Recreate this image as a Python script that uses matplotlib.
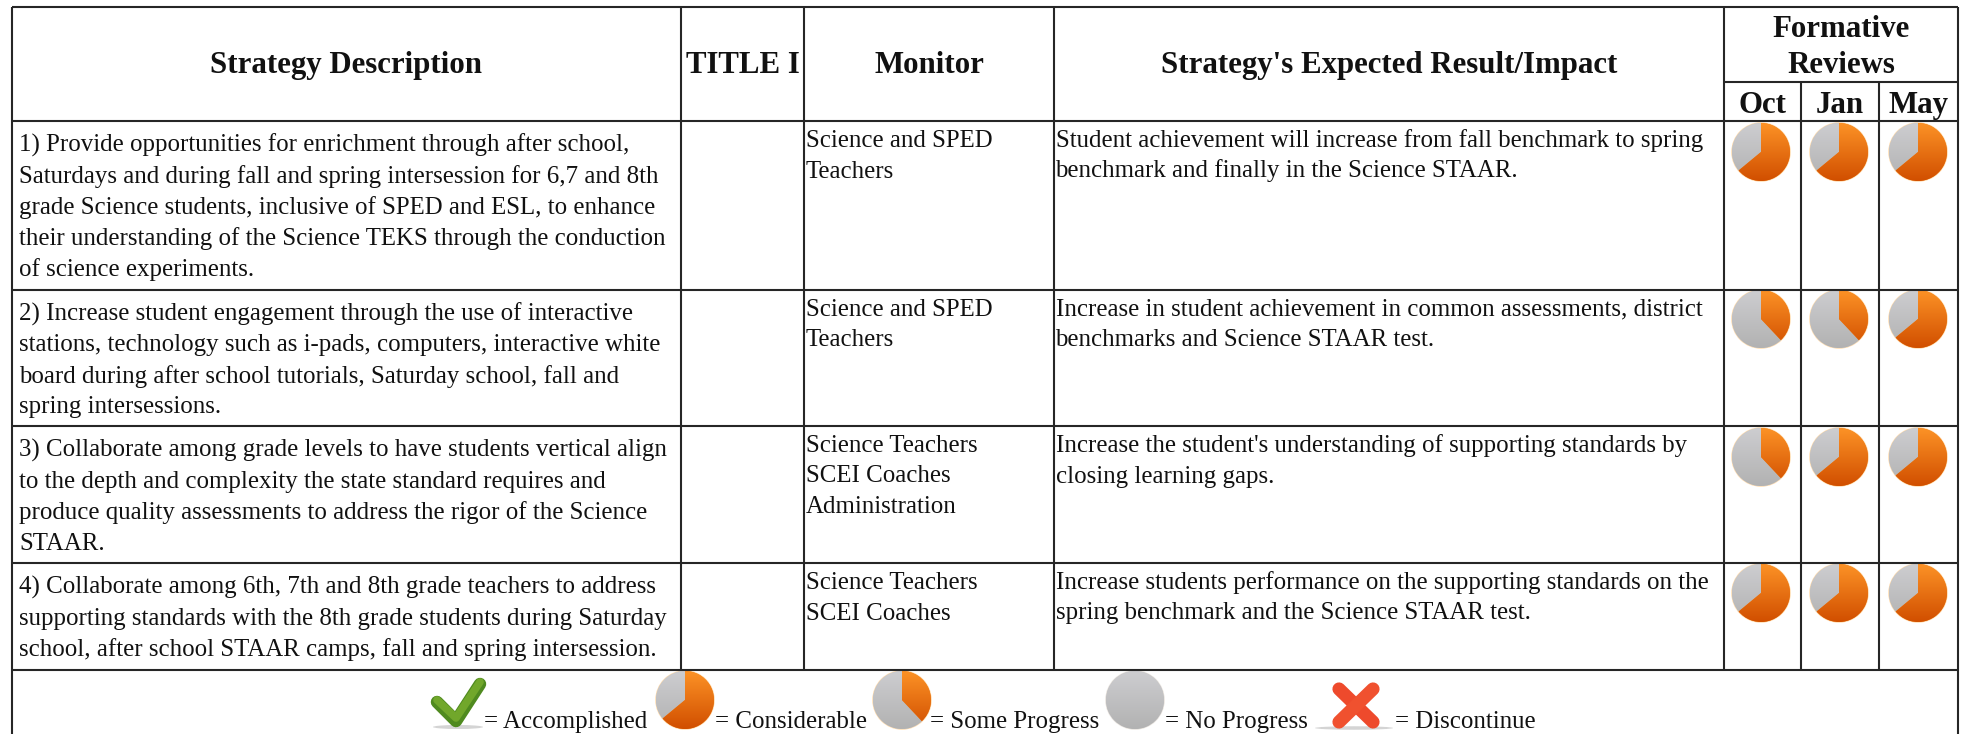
import numpy as np
import matplotlib
matplotlib.use("Agg")
import matplotlib.pyplot as plt
from matplotlib.patches import Wedge, Circle, Ellipse

plt.rcParams['font.family'] = ['Liberation Serif', 'DejaVu Sans']

# ---- data ----
headers = ["Strategy Description", "TITLE I", "Monitor", "Strategy's Expected Result/Impact"]
review_title = ["Formative", "Reviews"]
review_months = ["Oct", "Jan", "May"]
strategies = [
    ["1) Provide opportunities for enrichment through after school,",
     "Saturdays and during fall and spring intersession for 6,7 and 8th",
     "grade Science students, inclusive of SPED and ESL, to enhance",
     "their understanding of the Science TEKS through the conduction",
     "of science experiments."],
    ["2) Increase student engagement through the use of interactive",
     "stations, technology such as i-pads, computers, interactive white",
     "board during after school tutorials, Saturday school, fall and",
     "spring intersessions."],
    ["3) Collaborate among grade levels to have students vertical align",
     "to the depth and complexity the state standard requires and",
     "produce quality assessments to address the rigor of the Science",
     "STAAR."],
    ["4) Collaborate among 6th, 7th and 8th grade teachers to address",
     "supporting standards with the 8th grade students during Saturday",
     "school, after school STAAR camps, fall and spring intersession."],
]
monitors = [
    ["Science and SPED", "Teachers"],
    ["Science and SPED", "Teachers"],
    ["Science Teachers", "SCEI Coaches", "Administration"],
    ["Science Teachers", "SCEI Coaches"],
]
impacts = [
    ["Student achievement will increase from fall benchmark to spring",
     "benchmark and finally in the Science STAAR."],
    ["Increase in student achievement in common assessments, district",
     "benchmarks and Science STAAR test."],
    ["Increase the student's understanding of supporting standards by",
     "closing learning gaps."],
    ["Increase students performance on the supporting standards on the",
     "spring benchmark and the Science STAAR test."],
]
CONSIDERABLE, SOME, NONE = 0.64, 0.38, 0.0
progress = [
    [CONSIDERABLE, CONSIDERABLE, CONSIDERABLE],
    [SOME, SOME, CONSIDERABLE],
    [SOME, CONSIDERABLE, CONSIDERABLE],
    [CONSIDERABLE, CONSIDERABLE, CONSIDERABLE],
]
legend_labels = ["= Accomplished", "= Considerable", "= Some Progress", "= No Progress", "= Discontinue"]

# ---- layout (pixels) ----
W, H = 1969, 734
vx = [12, 681, 804, 1054, 1724, 1801, 1879, 1958]
hy = [7, 121, 289.5, 426, 563, 670]
pie_x = [1761, 1839, 1918]
pie_y = [152, 319, 457, 593]
R = 29
BODY = 17.93
HEAD = 22.2
LINE = 31
LC = '#262626'

fig = plt.figure(figsize=(W / 100, H / 100), dpi=100)
ax = fig.add_axes([0, 0, 1, 1])
ax.set_xlim(0, W)
ax.set_ylim(H, 0)
ax.axis('off')

lw = 1.5
for y in hy:
    ax.plot([vx[0], vx[-1]], [y, y], color=LC, lw=lw, solid_capstyle='butt', zorder=3)
for x in (vx[0], vx[-1]):
    ax.plot([x, x], [hy[0], H], color=LC, lw=lw, solid_capstyle='butt', zorder=3)
for x in vx[1:5]:
    ax.plot([x, x], [hy[0], hy[-1]], color=LC, lw=lw, solid_capstyle='butt', zorder=3)
for x in vx[5:7]:
    ax.plot([x, x], [82, hy[-1]], color=LC, lw=lw, solid_capstyle='butt', zorder=3)
ax.plot([vx[4], vx[7]], [82, 82], color=LC, lw=lw, solid_capstyle='butt', zorder=3)


def label(x, y, s, size=BODY, weight='normal', ha='left'):
    ax.text(x, y, s, fontsize=size, fontweight=weight, ha=ha, va='baseline', color='#111111', zorder=4)


for i, h in enumerate(headers):
    label((vx[i] + vx[i + 1]) / 2, 73, h, HEAD, 'bold', 'center')
for j, t in enumerate(review_title):
    label((vx[4] + vx[7]) / 2, 37 + 36 * j, t, HEAD, 'bold', 'center')
for j, m in enumerate(review_months):
    label((vx[4 + j] + vx[5 + j]) / 2, 113, m, HEAD, 'bold', 'center')

for r in range(4):
    top = hy[r + 1]
    for k, ln in enumerate(strategies[r]):
        label(19, top + 31 + LINE * k, ln)
    for k, ln in enumerate(monitors[r]):
        label(806, top + 26 + 30.5 * k, ln)
    for k, ln in enumerate(impacts[r]):
        label(1055.5, top + 26 + 30.5 * k, ln)


def vgrad(clip, cx, cy, r, c0, c1, z):
    rgb0 = np.array(matplotlib.colors.to_rgb(c0))
    rgb1 = np.array(matplotlib.colors.to_rgb(c1))
    t = np.linspace(0, 1, 64)[:, None, None]
    img = rgb0[None, None, :] * (1 - t) + rgb1[None, None, :] * t
    im = ax.imshow(img, extent=(cx - r, cx + r, cy + r, cy - r), aspect='auto',
                   interpolation='bilinear', zorder=z)
    im.set_clip_path(clip)


def pie(cx, cy, f):
    halo = Circle((cx, cy), R + 0.8, fc='#E9E4DE' if f == 0 else '#FFDDB0', ec='none', zorder=1.5)
    ax.add_patch(halo)
    end = -90 + 360 * f
    grey = Wedge((cx, cy), R, end, 270, fc='#c4c4c6', ec='none', zorder=2)
    ax.add_patch(grey)
    vgrad(grey, cx, cy, R, '#CDCDD0', '#B2B2B2', 2.05)
    if f > 0:
        org = Wedge((cx, cy), R, -90, end, fc='#f07a10', ec='none', zorder=2.1)
        ax.add_patch(org)
        vgrad(org, cx, cy, R, '#FC9226', '#D14F00', 2.15)


for r in range(4):
    for c in range(3):
        pie(pie_x[c], pie_y[r], progress[r][c])
ax.set_xlim(0, W)
ax.set_ylim(H, 0)

# ---- legend row ----
LB = 728
ax.add_patch(Ellipse((458, 727), 50, 4, fc='#d4d4d4', ec='none', zorder=1))
ax.plot([437, 456, 480], [702, 721, 684], color='#4F8A1F', lw=9, solid_capstyle='round',
        solid_joinstyle='round', zorder=2)
ax.plot([437, 456, 480], [700, 718, 682], color='#71A72B', lw=5.5, solid_capstyle='round',
        solid_joinstyle='round', zorder=2.1)
label(484, LB, legend_labels[0])
pie(685, 700, CONSIDERABLE)
label(715, LB, legend_labels[1])
pie(902, 700, SOME)
label(930, LB, legend_labels[2])
pie(1135, 700, NONE)
label(1165, LB, legend_labels[3])
ax.add_patch(Ellipse((1354, 728), 78, 3.5, fc='#d4d4d4', ec='none', zorder=1))
for a, b, col in (((1339, 689), (1373, 722), '#EE4A2C'), ((1373, 689), (1339, 722), '#F0512F')):
    ax.plot([a[0], b[0]], [a[1], b[1]], color=col, lw=9.5, solid_capstyle='round', zorder=2)
label(1395, LB, legend_labels[4])

fig.savefig('out.png', dpi=100, facecolor='white')
